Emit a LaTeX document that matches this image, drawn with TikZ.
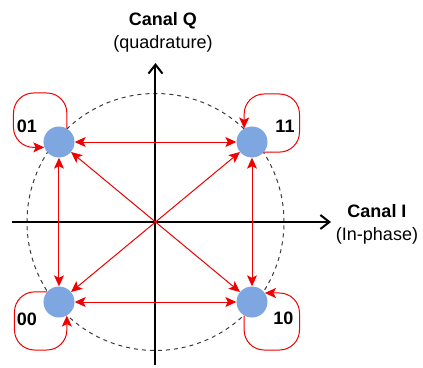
\documentclass[tikz,border=0pt]{standalone}
\usepackage{fontspec}
\setmainfont{Liberation Sans}
\usetikzlibrary{arrows.meta}
\definecolor{dotblue}{RGB}{126,166,224}
\definecolor{linkred}{RGB}{240,0,0}
\definecolor{ringgray}{RGB}{60,60,60}

\tikzset{
  symbol/.style={circle,fill=dotblue,minimum size=31pt,inner sep=0pt},
  link/.style={draw=linkred,line width=1pt,{Stealth[length=11pt,width=10pt,inset=2.5pt]}-{Stealth[length=11pt,width=10pt,inset=2.5pt]}},
  selfloop/.style={draw=linkred,line width=1pt,rounded corners=20pt,-{Stealth[length=11pt,width=10pt,inset=2.5pt]}},
  axis/.style={line width=2pt,-{Straight Barb[length=9pt,width=14pt]}},
  bits/.style={font=\bfseries\fontsize{18}{22}\selectfont},
  axislabel/.style={align=center,font=\fontsize{18}{23}\selectfont}
}

\begin{document}
\begin{tikzpicture}[x=1pt,y=1pt]
\useasboundingbox (-155.5,-145) rectangle (267.5,222);

% constellation circle
\draw[ringgray,line width=1pt,dash pattern=on 4pt off 4pt] (0,0) circle[radius=128.5];

% axes
\coordinate (iwest) at (-143.5,0);
\coordinate (ieast) at (175.5,0);
\coordinate (qsouth) at (0,-143);
\coordinate (qnorth) at (0,159);
\draw[axis] (iwest) -- (ieast);
\draw[axis] (qsouth) -- (qnorth);

\node[axislabel] (qlabel) at (7.5,190) {\textbf{Canal Q}\\(quadrature)};
\node[axislabel] (ilabel) at (221.5,-2.5) {\textbf{Canal I}\\(In-phase)};

% symbols
\node[symbol] (d01) at (-96.5,80) {};
\node[symbol] (d11) at (96.5,80) {};
\node[symbol] (d00) at (-96.5,-80) {};
\node[symbol] (d10) at (96.5,-80) {};

\node[bits] (l01) at (-128.5,96) {01};
\node[bits] (l11) at (129.5,96) {11};
\node[bits] (l00) at (-128.5,-97) {00};
\node[bits] (l10) at (128,-96) {10};

% transitions
\draw[link] (d01) -- (d11);
\draw[link] (d00) -- (d10);
\draw[link] (d01) -- (d00);
\draw[link] (d11) -- (d10);
\draw[link] (d01) -- (d10);
\draw[link] (d00) -- (d11);

% staying on the same symbol
\draw[selfloop] (d01.60) |- (-142,129) |- (d01.200);
\draw[selfloop] (d11.-40) -| (144,128) -| (d11.120);
\draw[selfloop] (d00.140) -| (-141,-128) -| (d00.-60);
\draw[selfloop] (d10.240) |- (144,-128) |- (d10.35);
\end{tikzpicture}
\end{document}
